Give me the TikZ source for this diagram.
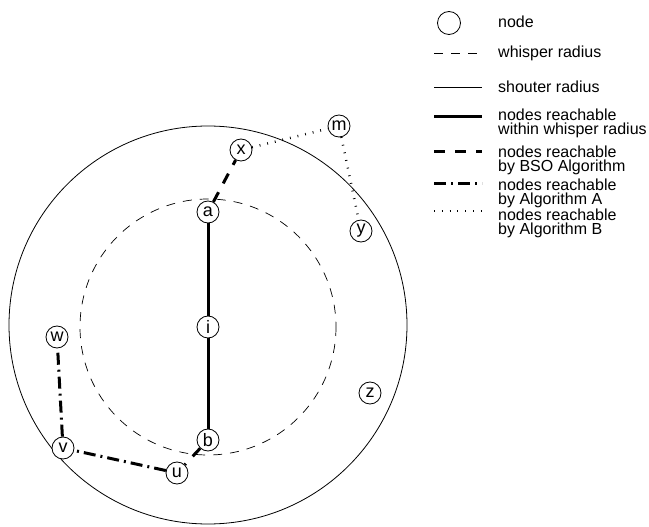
\documentclass[tikz,border=0pt]{standalone}
\usepackage{fontspec}
\setmainfont{Liberation Sans}
\begin{document}
\begin{tikzpicture}[x=1pt,y=-1pt,
  nd/.style={draw,line width=0.8pt,circle,minimum size=22pt,inner sep=0pt,font=\fontsize{18}{18}\selectfont,fill=white},
  whisper/.style={dash pattern=on 9pt off 8pt,line width=0.7pt},
  shouter/.style={line width=0.8pt},
  reachw/.style={line width=3pt},
  reachbso/.style={line width=3pt,dash pattern=on 11pt off 10pt},
  reacha/.style={line width=3pt,dash pattern=on 12pt off 5pt on 2pt off 5pt},
  reachb/.style={line width=2.5pt,dash pattern=on 0.8pt off 7pt},
  lt/.style={anchor=west,align=left,font=\fontsize{16}{14}\selectfont,inner sep=0pt}]
\useasboundingbox (0,0) rectangle (649,527);
\coordinate (ctr) at (208,325);
\draw[shouter] (ctr) circle (199);
\draw[whisper] (208,327) circle (128);
% nodes
\node[nd] (i) at (208,327) {i};
\node[nd] (a) at (208,212) {a};
\node[nd] (b) at (208,440) {b};
\node[nd] (x) at (241,150) {x};
\node[nd] (m) at (339,126) {m};
\node[nd] (y) at (361,231) {y};
\node[nd] (w) at (57,337) {w};
\node[nd] (v) at (63,448) {v};
\node[nd] (u) at (177,473) {u};
\node[nd] (z) at (370,393) {z};
% links
\draw[reachw] (a) -- (i);
\draw[reachw] (i) -- (b);
\draw[reachbso] (a) -- (x);
\draw[reachb] (x) -- (m);
\draw[reachb] (m) -- (y);
\draw[reachbso] (b) -- (u);
\draw[reacha] (u) -- (v);
\draw[reacha] (v) -- (w);
% legend
\node[draw,line width=0.8pt,circle,minimum size=23pt,inner sep=0pt] (ln) at (449,23) {};
\node[lt] (t1) at (498,22) {node};
\draw[whisper] (434,53) -- (482,53);
\node[lt] (t2) at (498,53) {whisper radius};
\draw[shouter] (434,87) -- (482,87);
\node[lt] (t3) at (498,87) {shouter radius};
\draw[reachw] (434,117) -- (482,117);
\draw[reachbso] (434,152) -- (482,152);
\draw[reacha] (434,183) -- (482,183);
\draw[reachb] (434,211) -- (482,211);
\node[lt,anchor=north west] (t4) at (498,109) {nodes reachable\\within whisper radius\\[7pt]nodes reachable\\by BSO Algorithm\\[3pt]nodes reachable\\by Algorithm A\\nodes reachable\\by Algorithm B};
\end{tikzpicture}
\end{document}
